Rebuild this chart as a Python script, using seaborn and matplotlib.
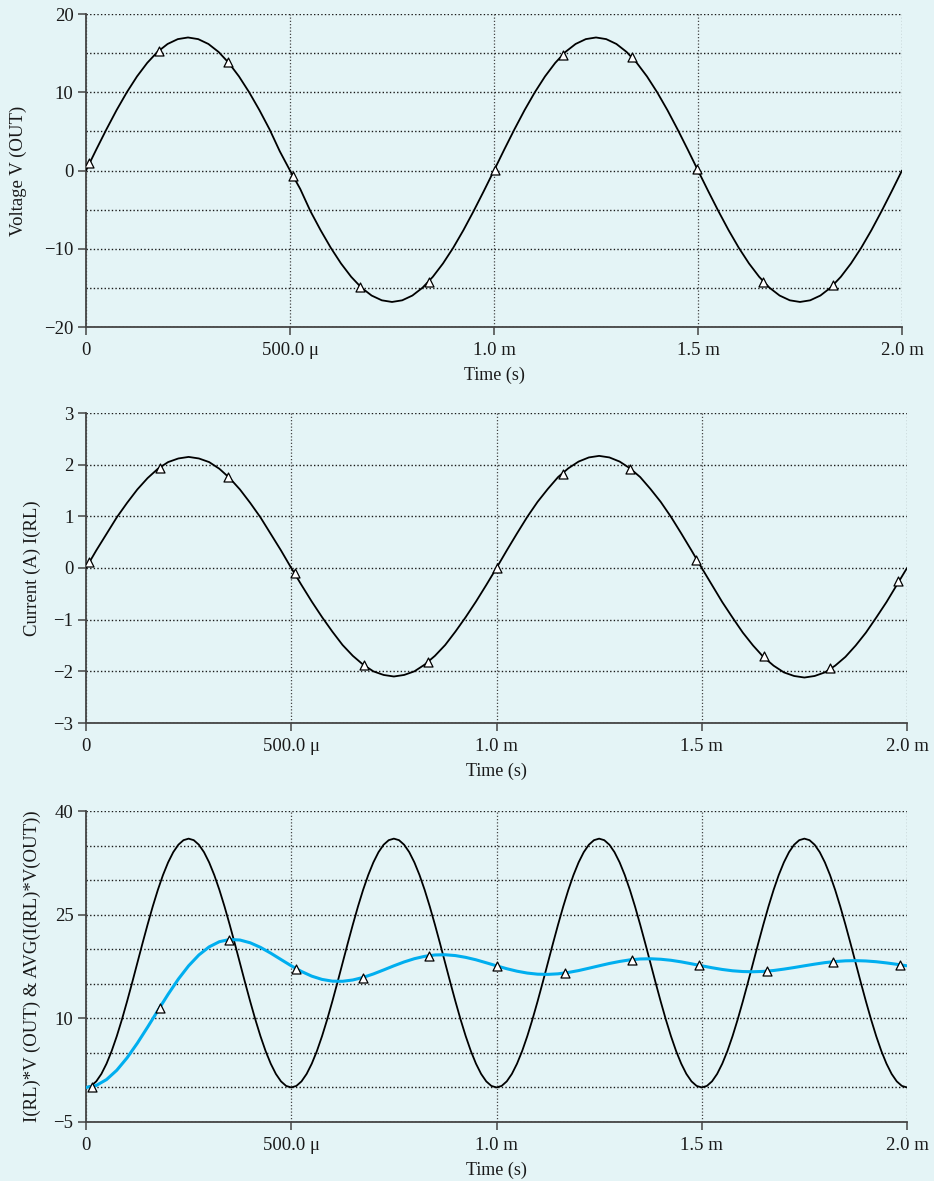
import matplotlib
matplotlib.use("Agg")
import matplotlib.pyplot as plt
import seaborn as sns

# ---- time bases (microseconds) ----
t_us = list(range(0, 2001, 25))
t_fine_us = [k * 12.5 for k in range(161)]

# ---- output voltage V(OUT) ----
v_out = [
    0, 2.66, 5.25, 7.72, 9.99, 12.02, 13.75, 15.15, 16.17, 16.79, 17.00,
    16.79, 16.17, 15.15, 13.75, 12.02, 9.99, 7.72, 5.25, 2.45, 0,
    -2.35, -5.19, -7.63, -9.88, -11.88, -13.59, -14.97, -15.98, -16.59, -16.80,
    -16.59, -15.98, -14.97, -13.59, -11.88, -9.88, -7.63, -5.19, -2.63, 0,
    2.66, 5.25, 7.72, 9.99, 12.02, 13.75, 15.15, 16.17, 16.79, 17.00,
    16.79, 16.17, 15.15, 13.75, 12.02, 9.99, 7.72, 5.25, 2.66, 0,
    -2.63, -5.19, -7.63, -9.88, -11.88, -13.59, -14.97, -15.98, -16.59, -16.80,
    -16.59, -15.98, -14.97, -13.59, -11.88, -9.88, -7.63, -5.19, -2.63, 0,
]
v_mark_t = [8, 178, 348, 507, 672, 841, 1002, 1168, 1338, 1497, 1660, 1832]
v_mark_y = [0.9, 15.3, 13.9, -0.7, -14.9, -14.2, 0.1, 14.8, 14.45, 0.2, -14.2, -14.6]

# ---- load current I(RL) ----
i_rl = [
    0, 0.34, 0.66, 0.98, 1.26, 1.52, 1.74, 1.92, 2.05, 2.12, 2.15,
    2.12, 2.05, 1.92, 1.74, 1.52, 1.26, 0.98, 0.66, 0.34, 0,
    -0.33, -0.65, -0.95, -1.23, -1.49, -1.70, -1.87, -2.00, -2.07, -2.10,
    -2.07, -2.00, -1.87, -1.70, -1.49, -1.23, -0.95, -0.65, -0.33, 0,
    0.34, 0.67, 0.99, 1.28, 1.53, 1.76, 1.93, 2.06, 2.14, 2.17,
    2.14, 2.06, 1.93, 1.76, 1.53, 1.28, 0.99, 0.67, 0.34, 0,
    -0.33, -0.66, -0.96, -1.25, -1.50, -1.72, -1.89, -2.02, -2.09, -2.12,
    -2.09, -2.02, -1.89, -1.72, -1.50, -1.25, -0.96, -0.66, -0.33, 0,
]
i_mark_t = [8, 180, 346, 510, 678, 834, 1000, 1163, 1325, 1486, 1652, 1812, 1979]
i_mark_y = [0.11, 1.94, 1.77, -0.1, -1.87, -1.81, 0.0, 1.82, 1.92, 0.15, -1.71, -1.94, -0.25]

# ---- instantaneous load power I(RL)*V(OUT), sampled every 12.5 us ----
p_inst = [
    0, 0.22, 0.88, 1.96, 3.44, 5.27, 7.42, 9.83, 12.44, 15.18, 18.0,
    20.82, 23.56, 26.17, 28.58, 30.73, 32.56, 34.04, 35.12, 35.78, 36.0,
    35.78, 35.12, 34.04, 32.56, 30.73, 28.58, 26.17, 23.56, 20.82, 18.0,
    15.18, 12.44, 9.83, 7.42, 5.27, 3.44, 1.96, 0.88, 0.22, 0,
    0.22, 0.88, 1.96, 3.44, 5.27, 7.42, 9.83, 12.44, 15.18, 18.0,
    20.82, 23.56, 26.17, 28.58, 30.73, 32.56, 34.04, 35.12, 35.78, 36.0,
    35.78, 35.12, 34.04, 32.56, 30.73, 28.58, 26.17, 23.56, 20.82, 18.0,
    15.18, 12.44, 9.83, 7.42, 5.27, 3.44, 1.96, 0.88, 0.22, 0,
    0.22, 0.88, 1.96, 3.44, 5.27, 7.42, 9.83, 12.44, 15.18, 18.0,
    20.82, 23.56, 26.17, 28.58, 30.73, 32.56, 34.04, 35.12, 35.78, 36.0,
    35.78, 35.12, 34.04, 32.56, 30.73, 28.58, 26.17, 23.56, 20.82, 18.0,
    15.18, 12.44, 9.83, 7.42, 5.27, 3.44, 1.96, 0.88, 0.22, 0,
    0.22, 0.88, 1.96, 3.44, 5.27, 7.42, 9.83, 12.44, 15.18, 18.0,
    20.82, 23.56, 26.17, 28.58, 30.73, 32.56, 34.04, 35.12, 35.78, 36.0,
    35.78, 35.12, 34.04, 32.56, 30.73, 28.58, 26.17, 23.56, 20.82, 18.0,
    15.18, 12.44, 9.83, 7.42, 5.27, 3.44, 1.96, 0.88, 0.22, 0,
]

# ---- running average AVG(I(RL)*V(OUT)) ----
p_avg = [
    0, 0.29, 1.14, 2.49, 4.28, 6.40, 8.72, 11.12, 13.48, 15.68, 17.60,
    19.17, 20.34, 21.09, 21.41, 21.33, 20.93, 20.27, 19.43, 18.51, 17.60,
    16.78, 16.10, 15.63, 15.38, 15.36, 15.55, 15.92, 16.42, 17.00, 17.60,
    18.16, 18.63, 18.97, 19.17, 19.20, 19.08, 18.82, 18.47, 18.04, 17.60,
    17.18, 16.82, 16.55, 16.39, 16.36, 16.44, 16.64, 16.91, 17.25, 17.60,
    17.94, 18.23, 18.46, 18.59, 18.62, 18.55, 18.40, 18.17, 17.89, 17.60,
    17.32, 17.07, 16.88, 16.77, 16.74, 16.79, 16.92, 17.12, 17.35, 17.60,
    17.84, 18.06, 18.22, 18.32, 18.35, 18.30, 18.19, 18.02, 17.82, 17.60,
]
avg_mark_t = [15, 180, 348, 512, 674, 836, 1000, 1168, 1329, 1494, 1658, 1819, 1983]
avg_mark_y = [0.1, 11.5, 21.4, 17.2, 15.9, 19.06, 17.6, 16.58, 18.48, 17.67, 16.83, 18.18, 17.75]

# ---- axis ticks and labels ----
x_ticks = [0, 500, 1000, 1500, 2000]
x_tick_labels = ["0", "500.0 \u03bc", "1.0 m", "1.5 m", "2.0 m"]

v_ticks = [-20, -10, 0, 10, 20]
v_minor = [-15, -5, 5, 15]
i_ticks = [-3, -2, -1, 0, 1, 2, 3]
p_ticks = [-5, 10, 25, 40]
p_minor = [0, 5, 15, 20, 30, 35]

x_label = "Time (s)"
v_label = "Voltage V (OUT)"
i_label = "Current (A) I(RL)"
p_label = "I(RL)*V (OUT) & AVG(I(RL)*V(OUT))"

BG = "#e4f4f6"
CYAN = "#00aeef"
AXIS_GRAY = "#444444"

sns.set_theme(style="ticks")
plt.rcParams["font.family"] = ["Liberation Serif", "DejaVu Serif"]
plt.rcParams["axes.unicode_minus"] = True

fig = plt.figure(figsize=(9.34, 11.81), dpi=100, facecolor=BG)
W, H = 934.0, 1181.0


def make_axes(left, right, top, bottom):
    return fig.add_axes([left / W, 1 - bottom / H, (right - left) / W, (bottom - top) / H])


def minus(v):
    return str(v).replace("-", "\u2212")


def style(ax, ylim, yticks, yminor, ylabel, label_x):
    ax.set_facecolor(BG)
    ax.set_xlim(0, 2000)
    ax.set_ylim(*ylim)
    ax.set_xticks(x_ticks)
    ax.set_xticklabels(x_tick_labels)
    ax.set_yticks(yticks)
    ax.set_yticklabels([minus(v) for v in yticks])
    if yminor:
        ax.set_yticks(yminor, minor=True)
    ax.set_axisbelow(True)
    ax.grid(True, which="both", axis="y", ls=(0, (1, 1.6)), color="#1a1a1a", lw=1.0)
    ax.grid(True, which="major", axis="x", ls=(0, (1, 1.6)), color="#444444", lw=0.9)
    for side in ("top", "right"):
        ax.spines[side].set_visible(False)
    for side in ("left", "bottom"):
        ax.spines[side].set_color(AXIS_GRAY)
        ax.spines[side].set_linewidth(1.3)
    ax.tick_params(which="major", direction="out", length=6, width=1.1,
                   color=AXIS_GRAY, labelsize=13.5, labelcolor="#1a1a1a")
    ax.tick_params(axis="x", which="major", pad=5)
    ax.tick_params(axis="y", which="major", pad=3)
    ax.tick_params(which="minor", length=0)
    ax.set_xlabel(x_label, fontsize=13, labelpad=5, color="#1a1a1a")
    ax.set_ylabel(ylabel, fontsize=13.5, color="#1a1a1a", va="center")
    ax.yaxis.set_label_coords(label_x, 0.5)


def open_triangles(ax, xs, ys):
    sns.scatterplot(x=xs, y=ys, ax=ax, marker="^", s=42, facecolor="white",
                    edgecolor="black", linewidth=0.9, zorder=5, legend=False)


# Output voltage
ax1 = make_axes(86, 902, 14, 327)
sns.lineplot(x=t_us, y=v_out, ax=ax1, color="black", lw=1.3, zorder=3)
open_triangles(ax1, v_mark_t, v_mark_y)
style(ax1, (-20, 20), v_ticks, v_minor, v_label, (18 - 86) / 816)

# Load current
ax2 = make_axes(86, 907, 413, 723)
sns.lineplot(x=t_us, y=i_rl, ax=ax2, color="black", lw=1.3, zorder=3)
open_triangles(ax2, i_mark_t, i_mark_y)
style(ax2, (-3, 3), i_ticks, None, i_label, (32 - 86) / 821)

# Instantaneous and average load power
ax3 = make_axes(86, 907, 811, 1122)
sns.lineplot(x=t_fine_us, y=p_inst, ax=ax3, color="black", lw=1.3, zorder=3)
sns.lineplot(x=t_us, y=p_avg, ax=ax3, color=CYAN, lw=2.2, zorder=4)
open_triangles(ax3, avg_mark_t, avg_mark_y)
style(ax3, (-5, 40), p_ticks, p_minor, p_label, (32 - 86) / 821)

fig.savefig("out.png", dpi=100, facecolor=BG)
